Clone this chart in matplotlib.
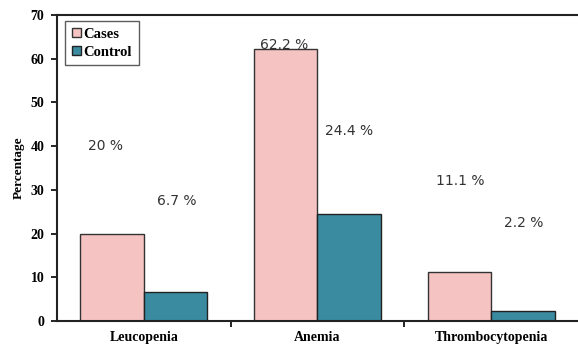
import matplotlib.pyplot as plt
import numpy as np

categories = ["Leucopenia", "Anemia", "Thrombocytopenia"]
cases = [20, 62.2, 11.1]
control = [6.7, 24.4, 2.2]
series_names = ["Cases", "Control"]
# text labels: (text, category position offset, y value)
labels = [("20 %", -0.22, 40), ("6.7 %", 0.19, 27.5),
          ("62.2 %", -0.19, 63.2), ("24.4 %", 0.18, 43.5),
          ("11.1 %", -0.18, 32), ("2.2 %", 0.19, 22.5)]
label_cats = [0, 0, 1, 1, 2, 2]

serif = ["Liberation Serif", "DejaVu Serif"]

fig = plt.figure(figsize=(5.78, 3.47), dpi=100)
ax = fig.add_axes([0.0986, 0.075, 0.9014, 0.882])

x = np.arange(len(categories))
w = 0.365
ax.bar(x - w / 2, cases, width=w, color="#F5C3C2", edgecolor="#333333",
       linewidth=1.0, label=series_names[0])
ax.bar(x + w / 2, control, width=w, color="#3A8AA0", edgecolor="#222222",
       linewidth=1.0, label=series_names[1])

for (txt, dx, yv), c in zip(labels, label_cats):
    ax.text(c + dx, yv, txt, ha="center", va="center", fontsize=10,
            color="#333333", family="DejaVu Sans")

ax.set_xlim(-0.5, 2.5)
ax.set_ylim(0, 70)
ax.set_yticks(range(0, 71, 10))
ax.set_xticks(x)
ax.set_xticklabels(categories, fontsize=10, fontweight="bold", family=serif)
ax.set_xticks([0.5, 1.5], minor=True)
ax.tick_params(axis="x", which="major", length=0, pad=7)
ax.tick_params(axis="x", which="minor", length=4, direction="out", width=1.2)
ax.tick_params(axis="y", length=4, width=1.2, direction="out", pad=5)
for t in ax.get_yticklabels():
    t.set_fontsize(10)
    t.set_fontweight("bold")
    t.set_family(serif)

ax.set_ylabel("Percentage", fontsize=9.5, fontweight="bold", family=serif, labelpad=4)

for s in ["left", "bottom", "top"]:
    ax.spines[s].set_linewidth(1.5)
    ax.spines[s].set_color("#222222")
ax.spines["right"].set_visible(False)

leg = ax.legend(loc="upper left", bbox_to_anchor=(0.016, 0.98), fancybox=False,
                edgecolor="#333333", handlelength=0.6, handleheight=0.6,
                handletextpad=0.2, borderpad=0.45, labelspacing=0.35,
                borderaxespad=0, prop={"family": serif, "weight": "bold", "size": 10.5})
leg.get_frame().set_linewidth(1.0)

fig.savefig("out.png", dpi=100)
